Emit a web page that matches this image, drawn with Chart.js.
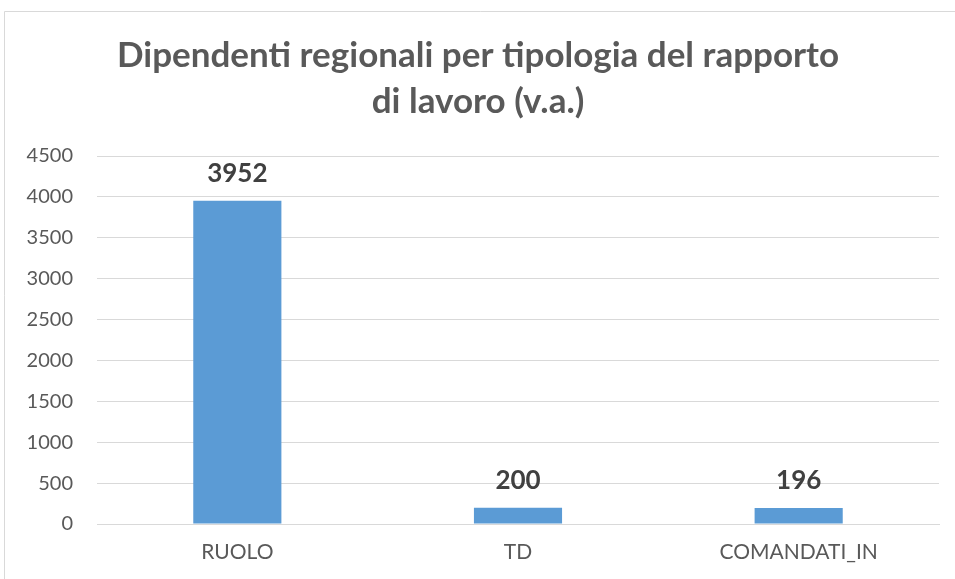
<!DOCTYPE html>
<html>
<head>
<meta charset="utf-8">
<script src="https://cdn.jsdelivr.net/npm/chart.js@4/dist/chart.umd.min.js"></script>
<style>
html,body{margin:0;padding:0;background:#fff;}
#wrap{width:955px;height:579px;position:relative;}
</style>
</head>
<body>
<div id="wrap"><canvas id="c" width="955" height="579"></canvas></div>
<script>
const categories = ["RUOLO", "TD", "COMANDATI_IN"];
const values = [3952, 200, 196];
const titleLines = ["Dipendenti regionali per tipologia del rapporto", "di lavoro (v.a.)"];
const yMin = 0, yMax = 4500, yStep = 500;

const FONT = "Lato, 'Open Sans', 'Liberation Sans', sans-serif";

const framePlugin = {
  id: 'frame',
  beforeDraw(chart) {
    const ctx = chart.ctx;
    ctx.save();
    ctx.fillStyle = '#ffffff';
    ctx.fillRect(0, 0, chart.width, chart.height);
    ctx.strokeStyle = '#D9D9D9';
    ctx.lineWidth = 1;
    ctx.beginPath();
    ctx.moveTo(4.5, chart.height + 2);
    ctx.lineTo(4.5, 11.5);
    ctx.lineTo(chart.width + 2, 11.5);
    ctx.stroke();
    // title
    ctx.fillStyle = '#595959';
    ctx.font = "bold 35px " + FONT;
    ctx.textAlign = 'center';
    ctx.textBaseline = 'middle';
    ctx.fillText(titleLines[0], 478, 56);
    ctx.fillText(titleLines[1], 478, 102);
    ctx.restore();
  },
  afterDatasetsDraw(chart) {
    const ctx = chart.ctx;
    const meta = chart.getDatasetMeta(0);
    ctx.save();
    ctx.fillStyle = '#404040';
    ctx.font = "bold 26px " + FONT;
    ctx.textAlign = 'center';
    ctx.textBaseline = 'alphabetic';
    meta.data.forEach((bar, i) => {
      ctx.fillText(String(chart.data.datasets[0].data[i]), bar.x, bar.y - 19);
    });
    ctx.restore();
  }
};

new Chart(document.getElementById('c'), {
  type: 'bar',
  data: {
    labels: categories,
    datasets: [{
      data: values,
      backgroundColor: '#5B9BD5',
      borderWidth: 0,
      categoryPercentage: 1,
      barPercentage: 0.314
    }]
  },
  options: {
    responsive: false,
    animation: false,
    devicePixelRatio: 1,
    layout: { padding: { top: 156, right: 16, bottom: 0, left: 0 } },
    plugins: {
      legend: { display: false },
      title: { display: false },
      tooltip: { enabled: false }
    },
    scales: {
      x: {
        grid: { display: false, drawTicks: false },
        border: { display: true, color: '#D9D9D9', width: 1 },
        ticks: { color: '#595959', font: { family: FONT, size: 21 }, padding: 16 },
        afterFit(scale) { scale.height = 55; }
      },
      y: {
        min: yMin, max: yMax,
        grid: { color: '#D9D9D9', lineWidth: 1, drawTicks: false },
        border: { display: false },
        ticks: {
          stepSize: yStep, color: '#595959', font: { family: FONT, size: 20 }, padding: 24,
          callback: (v) => String(v)
        },
        afterFit(scale) { scale.width = 97; }
      }
    }
  },
  plugins: [framePlugin]
});
</script>
</body>
</html>
